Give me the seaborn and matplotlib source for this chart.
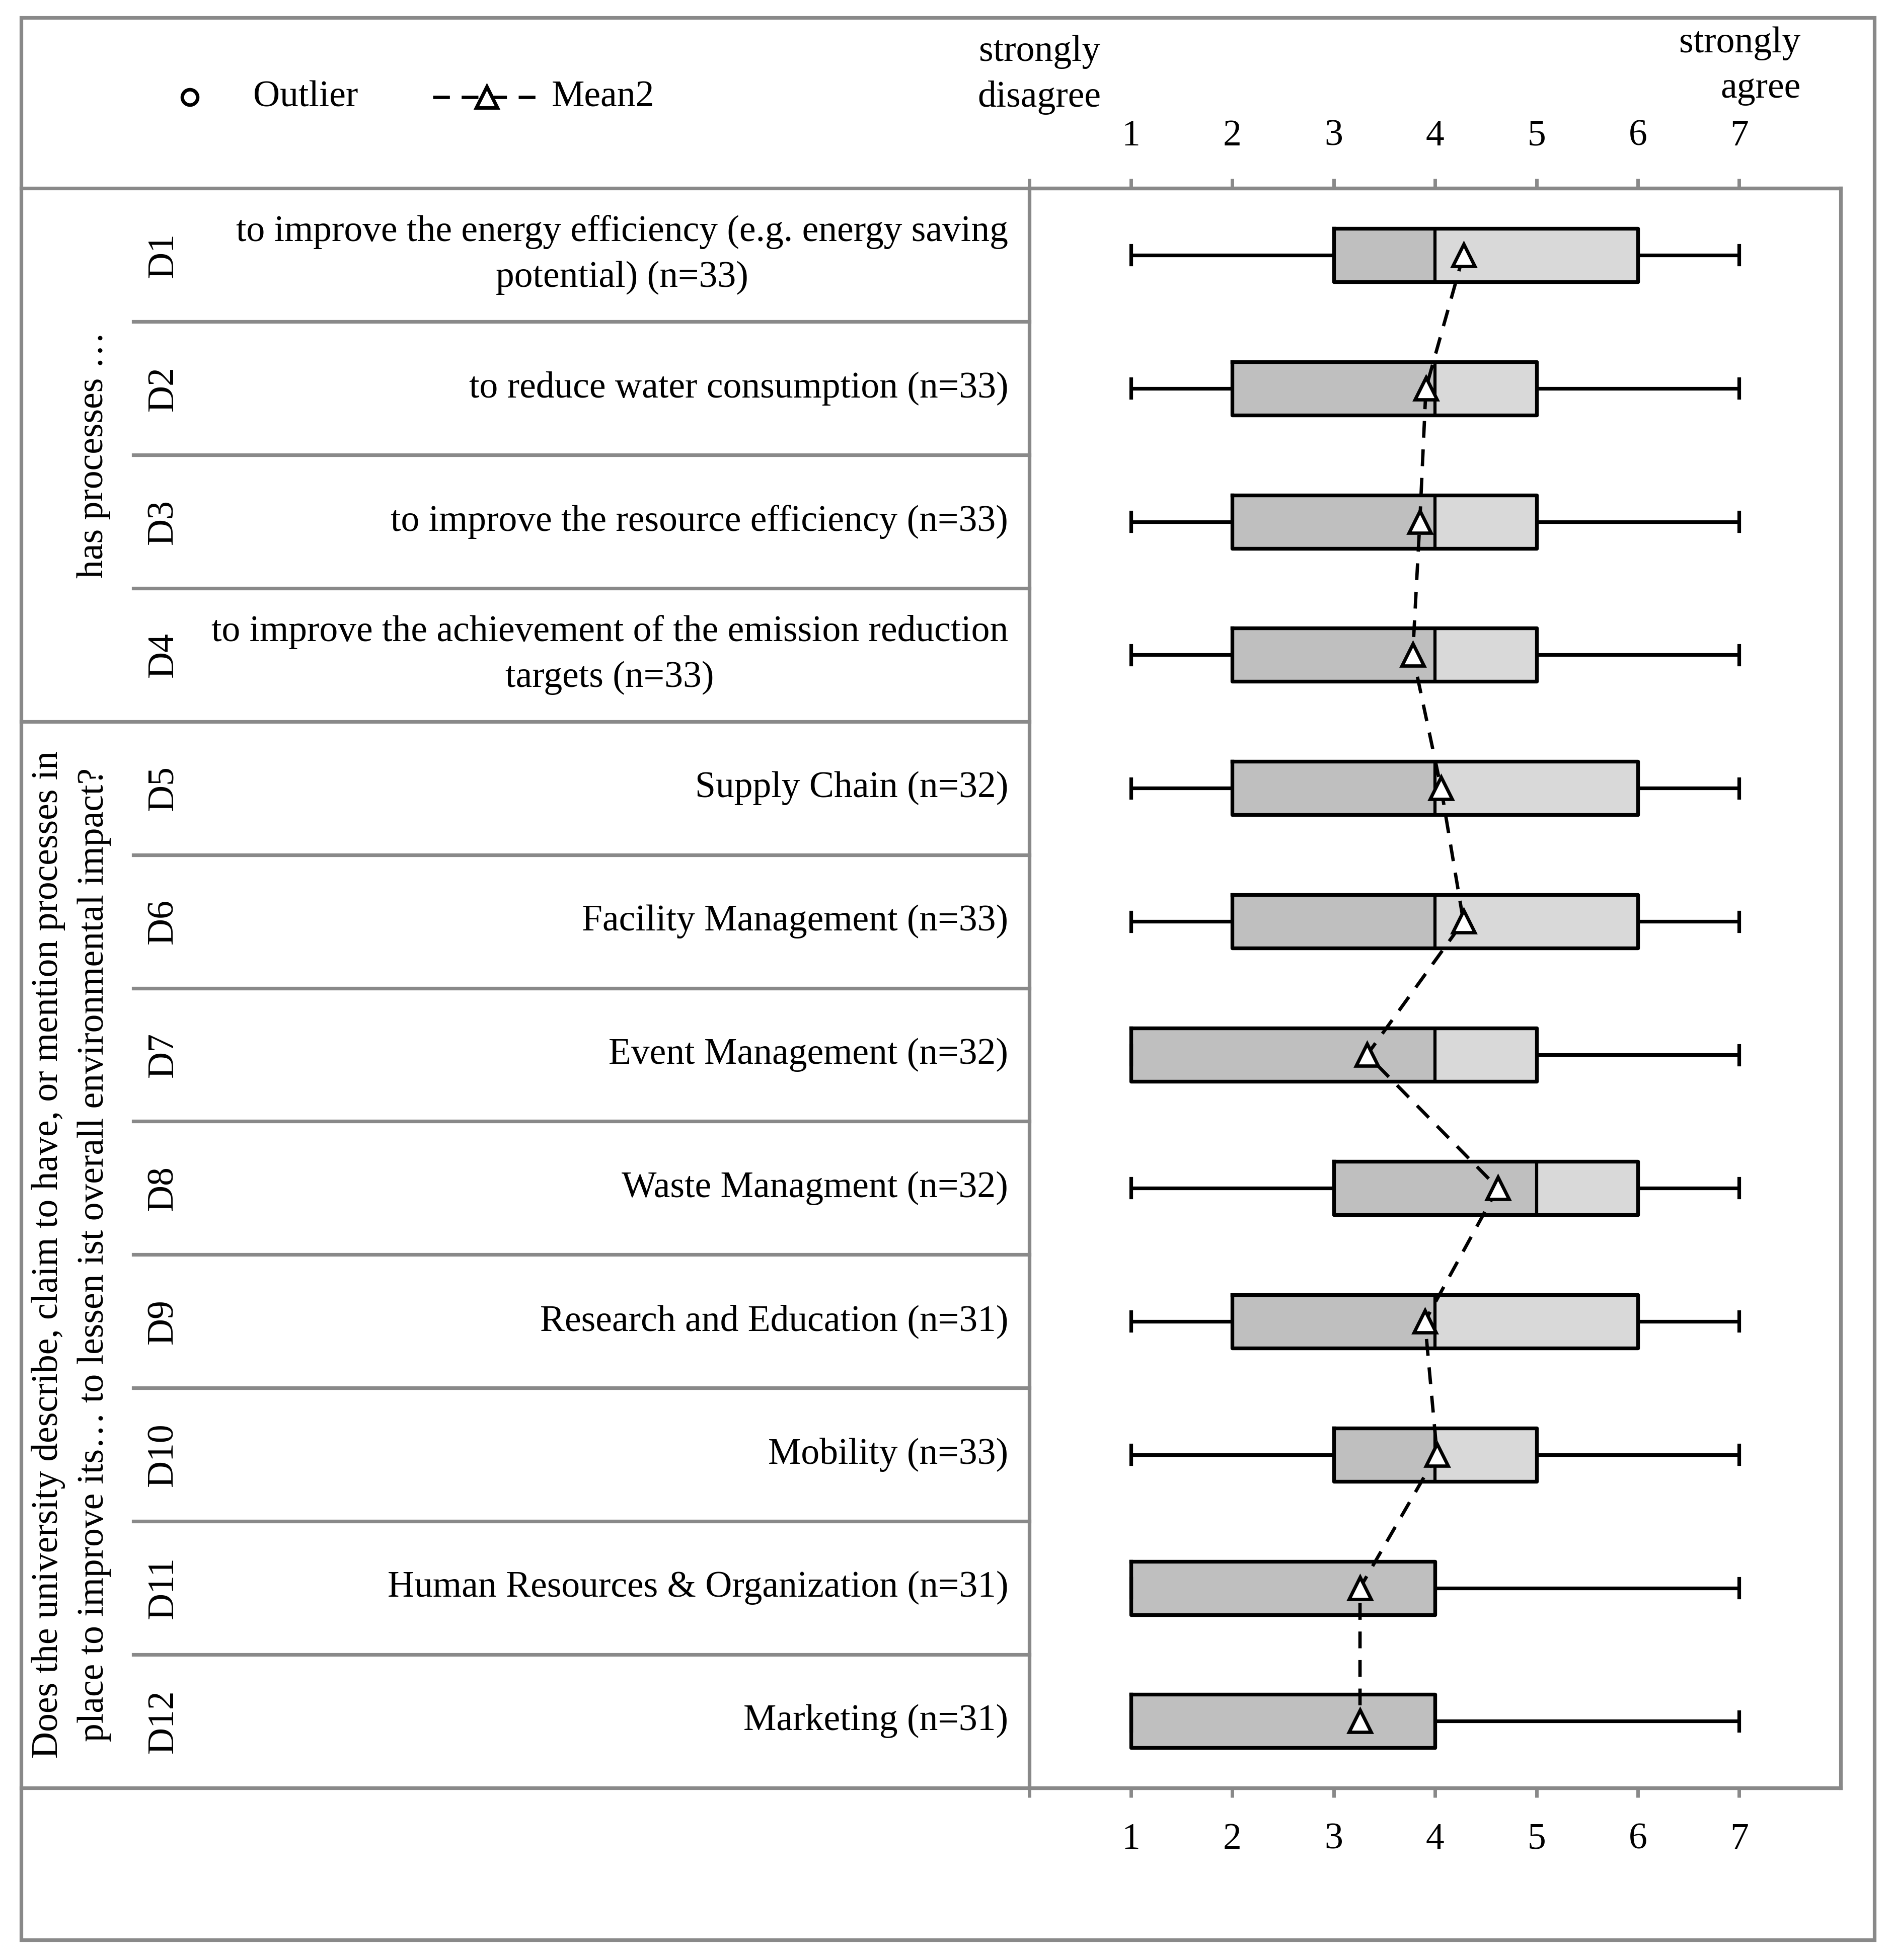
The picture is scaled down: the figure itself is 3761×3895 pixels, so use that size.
import numpy as np
import pandas as pd
import seaborn as sns
import matplotlib
matplotlib.use('Agg')
import matplotlib.pyplot as plt
from matplotlib.lines import Line2D
from matplotlib.patches import Rectangle

# item codes, labels and five-number summaries
codes = ['D1', 'D2', 'D3', 'D4', 'D5', 'D6', 'D7', 'D8', 'D9', 'D10', 'D11', 'D12']
items = [
    'to improve the energy efficiency (e.g. energy saving\npotential) (n=33)',
    'to reduce water consumption (n=33)',
    'to improve the resource efficiency (n=33)',
    'to improve the achievement of the emission reduction\ntargets (n=33)',
    'Supply Chain (n=32)',
    'Facility Management (n=33)',
    'Event Management (n=32)',
    'Waste Managment (n=32)',
    'Research and Education (n=31)',
    'Mobility (n=33)',
    'Human Resources & Organization (n=31)',
    'Marketing (n=31)',
]
lows = [1, 1, 1, 1, 1, 1, 1, 1, 1, 1, 1, 1]
q1s = [3, 2, 2, 2, 2, 2, 1, 3, 2, 3, 1, 1]
medians = [4, 4, 4, 4, 4, 4, 4, 5, 4, 4, 4, 4]
q3s = [6, 5, 5, 5, 6, 6, 5, 6, 6, 5, 4, 4]
highs = [7, 7, 7, 7, 7, 7, 7, 7, 7, 7, 7, 7]
means = [4.28, 3.91, 3.85, 3.78, 4.06, 4.28, 3.33, 4.62, 3.90, 4.02, 3.26, 3.26]
scale_points = [1, 2, 3, 4, 5, 6, 7]
group1 = 'has processes \u2026'
group2 = ('Does the university describe, claim to have, or mention processes in\n'
          'place to improve its\u2026 to lessen ist overall environmental impact?')

plt.rcParams['font.family'] = ['Liberation Serif', 'DejaVu Serif']
plt.rcParams['lines.dashed_pattern'] = [5, 3.5]

GRAY = '#898989'
DARK = '#bfbfbf'
LIGHT = '#d9d9d9'
LW = 5.2
FS = 53
LS = 1.45

# layout helpers (reference measured on a 1517 x 1571 grid)
W, H = 1517.0, 1571.0
def fx(v):
    return v / W
def fy(v):
    return 1 - v / H

TOP, BOT = 151, 1433
ROW = (BOT - TOP) / len(codes)

fig = plt.figure(figsize=(37.61, 38.95), dpi=100)
ax = fig.add_axes([fx(825), fy(BOT), fx(1475) - fx(825), fy(TOP) - fy(BOT)])

rows = np.arange(len(codes))
df = pd.DataFrame({
    'row': np.repeat(rows, 5),
    'score': np.column_stack([lows, q1s, medians, q3s, highs]).ravel(),
})

# two-tone box fill: Q1-median dark, median-Q3 light
ax.barh(rows, np.subtract(q3s, q1s), left=q1s, height=0.4, color=LIGHT, zorder=1)
ax.barh(rows, np.subtract(medians, q1s), left=q1s, height=0.4, color=DARK, zorder=1.1)

box_kws = dict(data=df, x='score', y='row', orient='y', whis=(0, 100), width=0.4,
               fill=False, color='black', linewidth=5.2, showfliers=False,
               boxprops=dict(linewidth=5.3), whiskerprops=dict(linewidth=5.2),
               capprops=dict(linewidth=5.2), medianprops=dict(linewidth=4.5), ax=ax)
try:
    sns.boxplot(capwidths=0.14, **box_kws)
except TypeError:
    sns.boxplot(**box_kws)

sns.lineplot(x=means, y=rows, sort=False, orient='y', estimator=None, color='black',
             linewidth=4.8, linestyle='--', marker='^', markersize=31,
             markerfacecolor='white', markeredgecolor='black', markeredgewidth=4.8,
             ax=ax, zorder=3)

ax.set_xlim(0, 8)
ax.set_ylim(len(rows) - 0.5, -0.5)
ax.set_xlabel('')
ax.set_ylabel('')
ax.set_yticks([])
ax.set_xticks(range(0, 8))
ax.set_xticklabels([''] + [str(v) for v in scale_points])
ax.tick_params(axis='x', top=True, bottom=True, labeltop=True, labelbottom=True,
               direction='out', length=14, width=5, color=GRAY, pad=36, labelsize=FS)
for s in ax.spines.values():
    s.set_color(GRAY)
    s.set_linewidth(LW)

# table frame
def hline(y, x0, x1):
    fig.add_artist(Line2D([fx(x0), fx(x1)], [fy(y), fy(y)], color=GRAY, lw=LW))

fig.add_artist(Rectangle((fx(17), fy(1555)), fx(1502) - fx(17), fy(14) - fy(1555),
                         fill=False, edgecolor=GRAY, lw=LW))
hline(TOP, 17, 1475)
hline(BOT, 17, 1475)
hline(TOP + 4 * ROW, 17, 825)
for r in list(range(1, 4)) + list(range(5, 12)):
    hline(TOP + r * ROW, 107, 825)

for r, code, label in zip(rows, codes, items):
    yc = fy(TOP + (r + 0.5) * ROW)
    fig.text(fx(131), yc, code, rotation=90, ha='center', va='center', fontsize=FS)
    fig.text(fx(808), yc, label, ha='right', va='center', multialignment='center',
             fontsize=FS, linespacing=LS)

fig.text(fx(75), fy(TOP + 2 * ROW), group1, rotation=90, ha='center', va='center',
         fontsize=FS)
fig.text(fx(57), fy(TOP + 8 * ROW), group2, rotation=90, ha='center', va='center',
         multialignment='center', fontsize=FS, linespacing=LS)

# header
fig.text(fx(833), fy(60), 'strongly\ndisagree', ha='center', va='center',
         multialignment='center', fontsize=FS, linespacing=LS)
fig.text(fx(1443), fy(53), 'strongly\nagree', ha='right', va='center',
         multialignment='right', fontsize=FS, linespacing=LS)

fig.add_artist(Line2D([fx(152)], [fy(78)], marker='o', ms=22, mfc='white',
                      mec='black', mew=5, ls='none'))
fig.text(fx(203), fy(78), 'Outlier', ha='left', va='center', fontsize=FS)
fig.add_artist(Line2D([fx(347), fx(390), fx(432)], [fy(78)] * 3, color='black', lw=4.8,
                      ls='--', marker='^', markevery=[1], ms=30, mfc='white',
                      mec='black', mew=5))
fig.text(fx(442), fy(78), 'Mean2', ha='left', va='center', fontsize=FS)

fig.savefig('out.png', dpi=100)
